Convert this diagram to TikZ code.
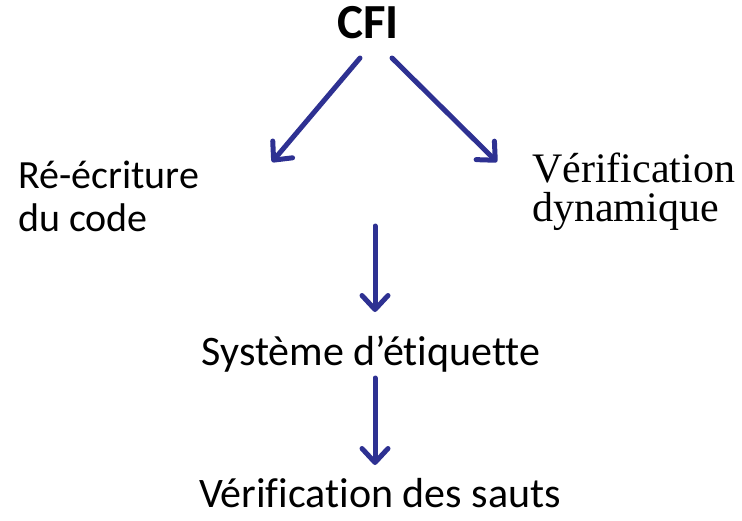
\documentclass[tikz,border=0pt]{standalone}
\usepackage{fontspec}
\setmainfont{Carlito}[Ligatures=NoCommon]
\newfontfamily\seriffam{Liberation Serif}
\usetikzlibrary{arrows.meta,positioning}
\definecolor{flowblue}{RGB}{46,49,146}
\tikzstyle{flow} = [line width=5pt, draw=flowblue, line cap=round, -{Straight Barb[length=14pt,width=26pt,line cap=round,line join=round]}]
\tikzstyle{txt} = [inner sep=0pt, font=\fontsize{40}{43}\selectfont, align=left]

\begin{document}
\begin{tikzpicture}[x=1pt, y=-1pt]
    \useasboundingbox (0,0) rectangle (742,520);
    % titre
    \node (cfi) [inner sep=0pt, anchor=base, font=\fontsize{49}{52}\selectfont\bfseries] at (368,38) {CFI};
    % deux approches
    \node (reecr) [txt, anchor=base west] at (18,231) {Ré-écriture\\du code};
    \node (verifdyn) [txt, anchor=base west, font=\fontsize{42}{39}\selectfont\seriffam] at (532,221) {Vérification\\dynamique};
    % suite
    \node (etiq) [txt, anchor=base, font=\fontsize{42}{45}\selectfont] at (371,365) {Système d’étiquette};
    \node (sauts) [txt, anchor=base, font=\fontsize{42}{45}\selectfont] at (380,507) {Vérification des sauts};

    % extrémités des flèches
    \coordinate (l0) at (360,58);
    \coordinate (l1) at (272,162);
    \coordinate (r0) at (392,58);
    \coordinate (r1) at (497,162);
    \coordinate (m0) at (375,226);
    \coordinate (m1) at (375,312);
    \coordinate (b0) at (375,378);
    \coordinate (b1) at (375,465);

    % flèches
    \draw[flow] (l0) -- (l1);
    \draw[flow] (r0) -- (r1);
    \draw[flow] (m0) -- (m1);
    \draw[flow] (b0) -- (b1);
\end{tikzpicture}
\end{document}
